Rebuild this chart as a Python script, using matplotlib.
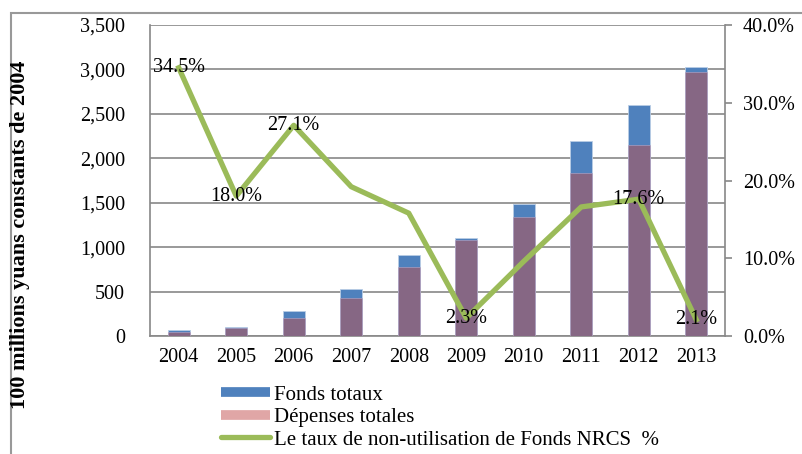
import numpy as np
import matplotlib
matplotlib.use('Agg')
import matplotlib.pyplot as plt
from matplotlib.lines import Line2D
from matplotlib.patches import Rectangle
from matplotlib.ticker import FuncFormatter

plt.rcParams['font.family'] = 'Liberation Serif'

annees = ['2004', '2005', '2006', '2007', '2008', '2009', '2010', '2011', '2012', '2013']
fonds_totaux = [64, 105, 281, 529, 911, 1106, 1486, 2198, 2596, 3031]
depenses_totales = [42, 93, 206, 431, 773, 1080, 1343, 1838, 2146, 2967]
taux_non_util = [34.5, 18.0, 27.1, 19.2, 15.8, 2.3, 9.6, 16.6, 17.6, 2.1]
# only these points carry a value label
annees_etiquetees = ['2004', '2005', '2006', '2009', '2012', '2013']

bleu = '#4F81BD'
mauve = '#866784'
rose = '#E0A6A6'
vert = '#9BBB59'
gris = '#888888'
taille = 14.5

fig = plt.figure(figsize=(8.03, 4.54), dpi=100)
W, H = 803, 454
ax = fig.add_axes([150 / W, 1 - 336 / H, 575 / W, 311 / H])

x = np.arange(len(annees))
ax.bar(x, fonds_totaux, width=0.39, color=bleu, edgecolor='#B9CDE5', linewidth=0.6, zorder=2)
ax.bar(x, depenses_totales, width=0.39, color=mauve, edgecolor='#B8A8C8', linewidth=0.4, zorder=3)

ax.set_xlim(-0.5, len(annees) - 0.5)
ax.set_ylim(0, 3500)
ax.set_yticks(np.arange(0, 3501, 500))
ax.yaxis.set_major_formatter(FuncFormatter(lambda v, p: f'{int(v):,}'))
ax.set_xticks(x)
ax.set_xticklabels(annees)
ax.tick_params(axis='both', length=0, labelsize=taille, colors='black')
ax.tick_params(axis='y', pad=18)
ax.tick_params(axis='x', pad=9)
ax.grid(axis='y', color=gris, linewidth=1.2, zorder=0)
ax.set_axisbelow(True)
for s in ['top', 'right']:
    ax.spines[s].set_visible(False)
for s in ['left', 'bottom']:
    ax.spines[s].set_color(gris)
    ax.spines[s].set_linewidth(1.2)

ax2 = ax.twinx()
taux = np.array(taux_non_util) / 100
ax2.plot(x, taux, color=vert, linewidth=3.8, zorder=5)
ax2.set_ylim(0, 0.4)
ax2.set_yticks(np.arange(0, 0.41, 0.1))
ax2.yaxis.set_major_formatter(FuncFormatter(lambda v, p: f'{v * 100:.1f}%'))
ax2.tick_params(axis='y', direction='out', length=5, color=gris, width=1.2, labelsize=taille, pad=8)
for s in ['top', 'left', 'bottom']:
    ax2.spines[s].set_visible(False)
ax2.spines['right'].set_color(gris)
ax2.spines['right'].set_linewidth(1.2)

for i, a in enumerate(annees):
    if a in annees_etiquetees:
        ax2.text(x[i], taux[i], f'{taux_non_util[i]:.1f}%', ha='center', va='center',
                 fontsize=taille, zorder=6)

fig.text(20 / W, 1 - 235 / H, '100 millions yuans constants de 2004', rotation=90,
         ha='center', va='center', fontsize=16, fontweight='bold')

poignees = [
    Line2D([], [], color=bleu, linewidth=7, solid_capstyle='butt'),
    Line2D([], [], color=rose, linewidth=7, solid_capstyle='butt'),
    Line2D([], [], color=vert, linewidth=3.8, solid_capstyle='round'),
]
etiquettes = ['Fonds totaux', 'Dépenses totales', 'Le taux de non-utilisation de Fonds NRCS  %']
fig.legend(poignees, etiquettes, loc='upper left', bbox_to_anchor=(221 / W, 1 - 385 / H),
           frameon=False, fontsize=15, handlelength=2.35, handletextpad=0.2,
           labelspacing=0.14, borderpad=0, borderaxespad=0)

# outer frame of the chart area, running off the right and bottom edges
fig.patches.append(Rectangle((11 / W, -0.1), 1.0, 1 - 13 / H + 0.1, transform=fig.transFigure,
                             fill=False, edgecolor='#999999', linewidth=1.5, clip_on=False))

fig.savefig('out.png', dpi=100)
